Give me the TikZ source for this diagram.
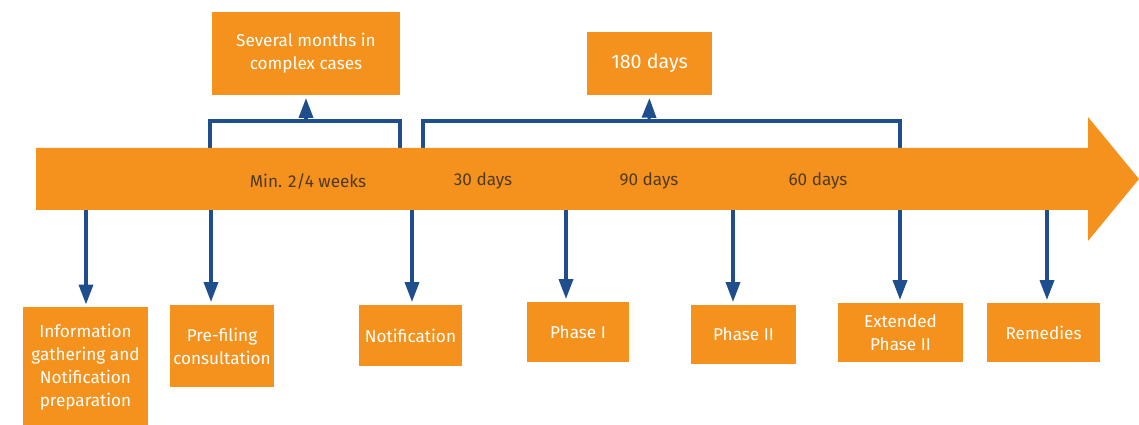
\documentclass[tikz,border=0pt]{standalone}
\usepackage{fontspec}
\setmainfont{Fira Sans}
\usetikzlibrary{arrows.meta}
\definecolor{tlorange}{HTML}{F5921E}
\definecolor{tlblue}{HTML}{1F4E8C}
\definecolor{tltext}{HTML}{4E3A22}

\begin{document}
\begin{tikzpicture}[x=0.025cm,y=-0.025cm,
  every node/.style={font=\fontsize{12.2}{16.4}\selectfont},
  box/.style 2 args={fill=tlorange,text=white,align=center,inner sep=0pt,
    minimum width=#1*0.025cm,minimum height=#2*0.025cm},
  span/.style={text=tltext},
  link/.style={draw=tlblue,line width=2.2pt},
  pointer/.style={link,-{Triangle[width=10pt,length=14pt]},shorten >=2pt}]
\useasboundingbox (0,0) rectangle (1139,425);

\node[box={188}{83}] (months) at (306,53.5) {Several months in\\complex cases};
\node[box={125}{63},font=\fontsize{14}{16.4}\selectfont] (days) at (649.5,63.5) {180 days};

\node[box={125}{119}] (info) at (85.5,367) {Information\\gathering and\\Notification\\preparation};
\node[box={104}{82}] (prefiling) at (222,346) {Pre-filing\\consultation};
\node[box={103}{61}] (notif) at (410.5,335.5) {Notification};
\node[box={102}{60}] (phaseone) at (578,332) {Phase I};
\node[box={105}{59}] (phasetwo) at (743.5,334.5) {Phase II};
\node[box={125}{59}] (extended) at (900.5,332.5) {Extended\\Phase II};
\node[box={113}{59}] (remedies) at (1043.5,332.5) {Remedies};

% brackets above the timeline
\coordinate (b1l) at (210,148);
\coordinate (b1r) at (400,148);
\coordinate (b1m) at (306,121);
\coordinate (b2l) at (423,148);
\coordinate (b2r) at (900,148);
\coordinate (b2m) at (649,121);
\draw[link] (b1l) -- ++(0,-27) -| (b1r);
\draw[link] (b2l) -- ++(0,-27) -| (b2r);
\draw[pointer] (b1m) -- (months.south);
\draw[pointer] (b2m) -- (days.south);

% ticks below the timeline
\coordinate (t1) at (86,210);
\coordinate (t2) at (211,210);
\coordinate (t3) at (412,210);
\coordinate (t4) at (566,210);
\coordinate (t5) at (733,210);
\coordinate (t6) at (900,210);
\coordinate (t7) at (1047,210);
\draw[pointer] (t1) -- (t1 |- info.north);
\draw[pointer] (t2) -- (t2 |- prefiling.north);
\draw[pointer] (t3) -- (t3 |- notif.north);
\draw[pointer] (t4) -- (t4 |- phaseone.north);
\draw[pointer] (t5) -- (t5 |- phasetwo.north);
\draw[pointer] (t6) -- (t6 |- extended.north);
\draw[pointer] (t7) -- (t7 |- remedies.north);

% the timeline
\fill[tlorange] (36,148) -- (1088,148) -- (1088,117) -- (1139,179)
  -- (1088,241) -- (1088,210) -- (36,210) -- cycle;
\node[span] (w1) at (308,181) {Min. 2/4 weeks};
\node[span] (d30) at (483,181) {30 days};
\node[span] (d90) at (649,181) {90 days};
\node[span] (d60) at (818,181) {60 days};
\end{tikzpicture}
\end{document}
